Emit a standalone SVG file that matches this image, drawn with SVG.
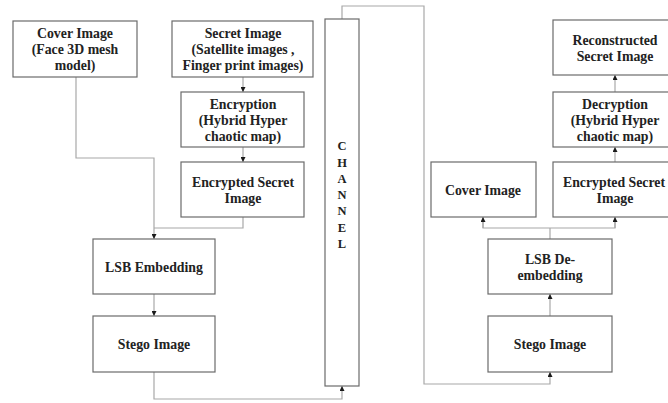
<svg xmlns="http://www.w3.org/2000/svg" width="668" height="403" viewBox="0 0 668 403">
  <style>
    .box { fill: #ffffff; stroke: #6b6b6b; stroke-width: 1.2; }
    .lbl { font-family: "Liberation Serif", "Times New Roman", serif; font-weight: bold; font-size: 13.8px; fill: #222222; text-anchor: middle; }
    .ch { font-size: 12.5px; }
    .wire { fill: none; stroke: #a8a8a8; stroke-width: 1.2; }
  </style>
  <defs>
    <marker id="arr" viewBox="0 0 6 6" refX="6" refY="3" markerWidth="5" markerHeight="5" orient="auto" markerUnits="userSpaceOnUse">
      <path d="M0,0 L6,3 L0,6 Z" fill="#1a1a1a"/>
    </marker>
  </defs>
  <rect width="668" height="403" fill="#ffffff"/>

  <g id="connectors">
    <polyline class="wire" points="76,77 76,158 154,158 154,239" marker-end="url(#arr)"/>
    <polyline class="wire" points="243,217 243,228 154,228"/>
    <line class="wire" x1="243" y1="77" x2="243" y2="92" marker-end="url(#arr)"/>
    <line class="wire" x1="243" y1="147" x2="243" y2="162" marker-end="url(#arr)"/>
    <line class="wire" x1="154" y1="294" x2="154" y2="316" marker-end="url(#arr)"/>
    <polyline class="wire" points="154,372 154,399 342,399 342,386" marker-end="url(#arr)"/>
    <polyline class="wire" points="342,19 342,6 424,6 424,384 550,384 550,372" marker-end="url(#arr)"/>
    <line class="wire" x1="550" y1="316" x2="550" y2="294" marker-end="url(#arr)"/>
    <line class="wire" x1="550" y1="239" x2="550" y2="228"/>
    <polyline class="wire" points="483,217 483,228 615,228 615,217"/>
    <line class="wire" x1="483" y1="228" x2="483" y2="217" marker-end="url(#arr)"/>
    <line class="wire" x1="615" y1="228" x2="615" y2="217" marker-end="url(#arr)"/>
    <line class="wire" x1="615" y1="162" x2="615" y2="147" marker-end="url(#arr)"/>
    <line class="wire" x1="615" y1="92" x2="615" y2="75" marker-end="url(#arr)"/>
  </g>

  <g id="cover-image">
    <rect class="box" x="13" y="21" width="124" height="56"/>
    <text class="lbl" x="75" y="38">Cover Image</text>
    <text class="lbl" x="75" y="54">(Face 3D mesh</text>
    <text class="lbl" x="75" y="70">model)</text>
  </g>
  <g id="secret-image">
    <rect class="box" x="172" y="21" width="141" height="56"/>
    <text class="lbl" x="243" y="38">Secret Image</text>
    <text class="lbl" x="243" y="54">(Satellite images ,</text>
    <text class="lbl" x="243" y="70">Finger print images)</text>
  </g>
  <g id="encryption">
    <rect class="box" x="181" y="92" width="123" height="55"/>
    <text class="lbl" x="243" y="109">Encryption</text>
    <text class="lbl" x="243" y="125">(Hybrid Hyper</text>
    <text class="lbl" x="243" y="141">chaotic map)</text>
  </g>
  <g id="encrypted-secret">
    <rect class="box" x="181" y="162" width="123" height="55"/>
    <text class="lbl" x="243" y="187">Encrypted Secret</text>
    <text class="lbl" x="243" y="203">Image</text>
  </g>
  <g id="lsb-embedding">
    <rect class="box" x="93" y="239" width="122" height="55"/>
    <text class="lbl" x="154" y="272">LSB Embedding</text>
  </g>
  <g id="stego-image">
    <rect class="box" x="93" y="316" width="122" height="56"/>
    <text class="lbl" x="154" y="349">Stego Image</text>
  </g>
  <g id="channel">
    <rect class="box" x="325" y="19" width="34" height="367"/>
    <text class="lbl ch" x="342" y="150">C</text>
    <text class="lbl ch" x="342" y="167">H</text>
    <text class="lbl ch" x="342" y="183">A</text>
    <text class="lbl ch" x="342" y="199">N</text>
    <text class="lbl ch" x="342" y="215">N</text>
    <text class="lbl ch" x="342" y="232">E</text>
    <text class="lbl ch" x="342" y="248">L</text>
  </g>
  <g id="reconstructed">
    <rect class="box" x="553" y="20" width="120" height="55"/>
    <text class="lbl" x="615" y="45">Reconstructed</text>
    <text class="lbl" x="615" y="61">Secret Image</text>
  </g>
  <g id="decryption">
    <rect class="box" x="553" y="92" width="120" height="55"/>
    <text class="lbl" x="615" y="109">Decryption</text>
    <text class="lbl" x="615" y="125">(Hybrid Hyper</text>
    <text class="lbl" x="615" y="141">chaotic map)</text>
  </g>
  <g id="encrypted-secret-rx">
    <rect class="box" x="553" y="162" width="120" height="55"/>
    <text class="lbl" x="614" y="187">Encrypted Secret</text>
    <text class="lbl" x="615" y="203">Image</text>
  </g>
  <g id="cover-image-rx">
    <rect class="box" x="431" y="162" width="105" height="55"/>
    <text class="lbl" x="483" y="195">Cover Image</text>
  </g>
  <g id="lsb-deembedding">
    <rect class="box" x="488" y="239" width="124" height="55"/>
    <text class="lbl" x="550" y="264">LSB De-</text>
    <text class="lbl" x="550" y="280">embedding</text>
  </g>
  <g id="stego-image-rx">
    <rect class="box" x="488" y="316" width="124" height="56"/>
    <text class="lbl" x="550" y="349">Stego Image</text>
  </g>
</svg>
